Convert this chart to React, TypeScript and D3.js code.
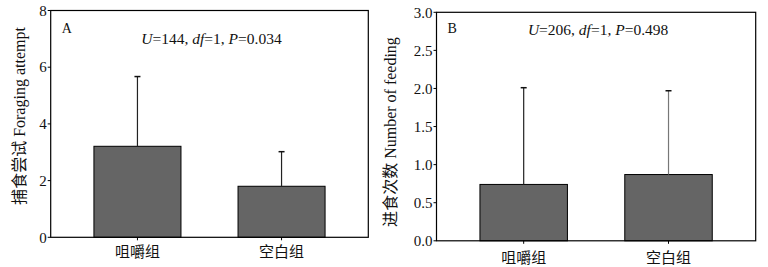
import React from "react";
import * as d3 from "d3";

const categories = ["咀嚼组", "空白组"];
const foragingMeans = [3.21, 1.8];
const foragingErrors = [2.46, 1.22];
const feedingMeans = [0.74, 0.87];
const feedingErrors = [1.27, 1.1];
const foragingTicks = [0, 2, 4, 6, 8];
const feedingTicks = [0, 0.5, 1.0, 1.5, 2.0, 2.5, 3.0];

const FONT = "'Liberation Serif', 'Times New Roman', 'Noto Sans CJK SC', serif";

type PanelProps = {
  x0: number; x1: number; y0: number; y1: number;
  domain: [number, number];
  ticks: number[];
  fmt: (v: number) => string;
  means: number[];
  errors: number[];
  errColors: string[];
  letter: string;
  stat: { U: string; P: string; baseline: number };
  ylabel: string;
  ylabelX: number;
  ylabelY: number;
  catBaseline: number;
};

function Panel(p: PanelProps) {
  const x = d3.scaleBand<string>().domain(categories).range([p.x0, p.x1]).paddingInner(0.396).paddingOuter(0.3);
  const y = d3.scaleLinear().domain(p.domain).range([p.y1, p.y0]);
  const bw = x.bandwidth();
  const cx = (p.x0 + p.x1) / 2;
  return (
    <g fontFamily={FONT}>
      {categories.map((c, i) => {
        const bx = x(c)!;
        const m = bx + bw / 2;
        const top = y(p.means[i]);
        const et = y(p.means[i] + p.errors[i]);
        return (
          <g key={c}>
            <rect x={bx} y={top} width={bw} height={p.y1 - top} fill="#656565" stroke="#000" strokeWidth={1} />
            <line x1={m} x2={m} y1={top} y2={et} stroke={p.errColors[i]} strokeWidth={1.2} />
            <line x1={m - 3} x2={m + 3} y1={et} y2={et} stroke="#111" strokeWidth={1.5} />
            <line x1={m} x2={m} y1={p.y1} y2={p.y1 + 3} stroke="#000" strokeWidth={1} />
            <text x={m} y={p.catBaseline} textAnchor="middle" fontSize={15} fill="#111">{c}</text>
          </g>
        );
      })}
      <rect x={p.x0} y={p.y0} width={p.x1 - p.x0} height={p.y1 - p.y0} fill="none" stroke="#000" strokeWidth={1.2} />
      {p.ticks.map((t) => (
        <g key={t}>
          <line x1={p.x0 - 3} x2={p.x0} y1={y(t)} y2={y(t)} stroke="#000" strokeWidth={1} />
          <text x={p.x0 - 4} y={y(t)} dy="0.35em" textAnchor="end" fontSize={15} fill="#111">{p.fmt(t)}</text>
        </g>
      ))}
      <text x={p.x0 + 11} y={33} fontSize={14} fill="#111">{p.letter}</text>
      <text x={cx + 2} y={p.stat.baseline} textAnchor="middle" fontSize={15.5} fill="#111">
        <tspan fontStyle="italic">U</tspan>={p.stat.U}, <tspan fontStyle="italic">df</tspan>=1, <tspan fontStyle="italic">P</tspan>={p.stat.P}
      </text>
      <text transform={`translate(${p.ylabelX},${p.ylabelY}) rotate(-90)`} textAnchor="middle" fontSize={16} fill="#111">{p.ylabel}</text>
    </g>
  );
}

export default function App() {
  return (
    <svg width={768} height={267} style={{ position: "absolute", left: 0, top: 0, background: "#fff" }}>
      <rect width={768} height={267} fill="#fff" />
      <Panel
        x0={50.7} x1={368.3} y0={10.5} y1={237.3}
        domain={[0, 8]} ticks={foragingTicks} fmt={(v) => d3.format("d")(v)}
        means={foragingMeans} errors={foragingErrors} errColors={["#222", "#222"]}
        letter="A" stat={{ U: "144", P: "0.034", baseline: 44 }}
        ylabel="捕食尝试 Foraging attempt" ylabelX={25} ylabelY={116}
        catBaseline={257}
      />
      <Panel
        x0={436.5} x1={755.7} y0={12.3} y1={240.8}
        domain={[0, 3]} ticks={feedingTicks} fmt={(v) => d3.format(".1f")(v)}
        means={feedingMeans} errors={feedingErrors} errColors={["#222", "#777"]}
        letter="B" stat={{ U: "206", P: "0.498", baseline: 35 }}
        ylabel="进食次数 Number of feeding" ylabelX={396} ylabelY={132}
        catBaseline={263}
      />
    </svg>
  );
}
